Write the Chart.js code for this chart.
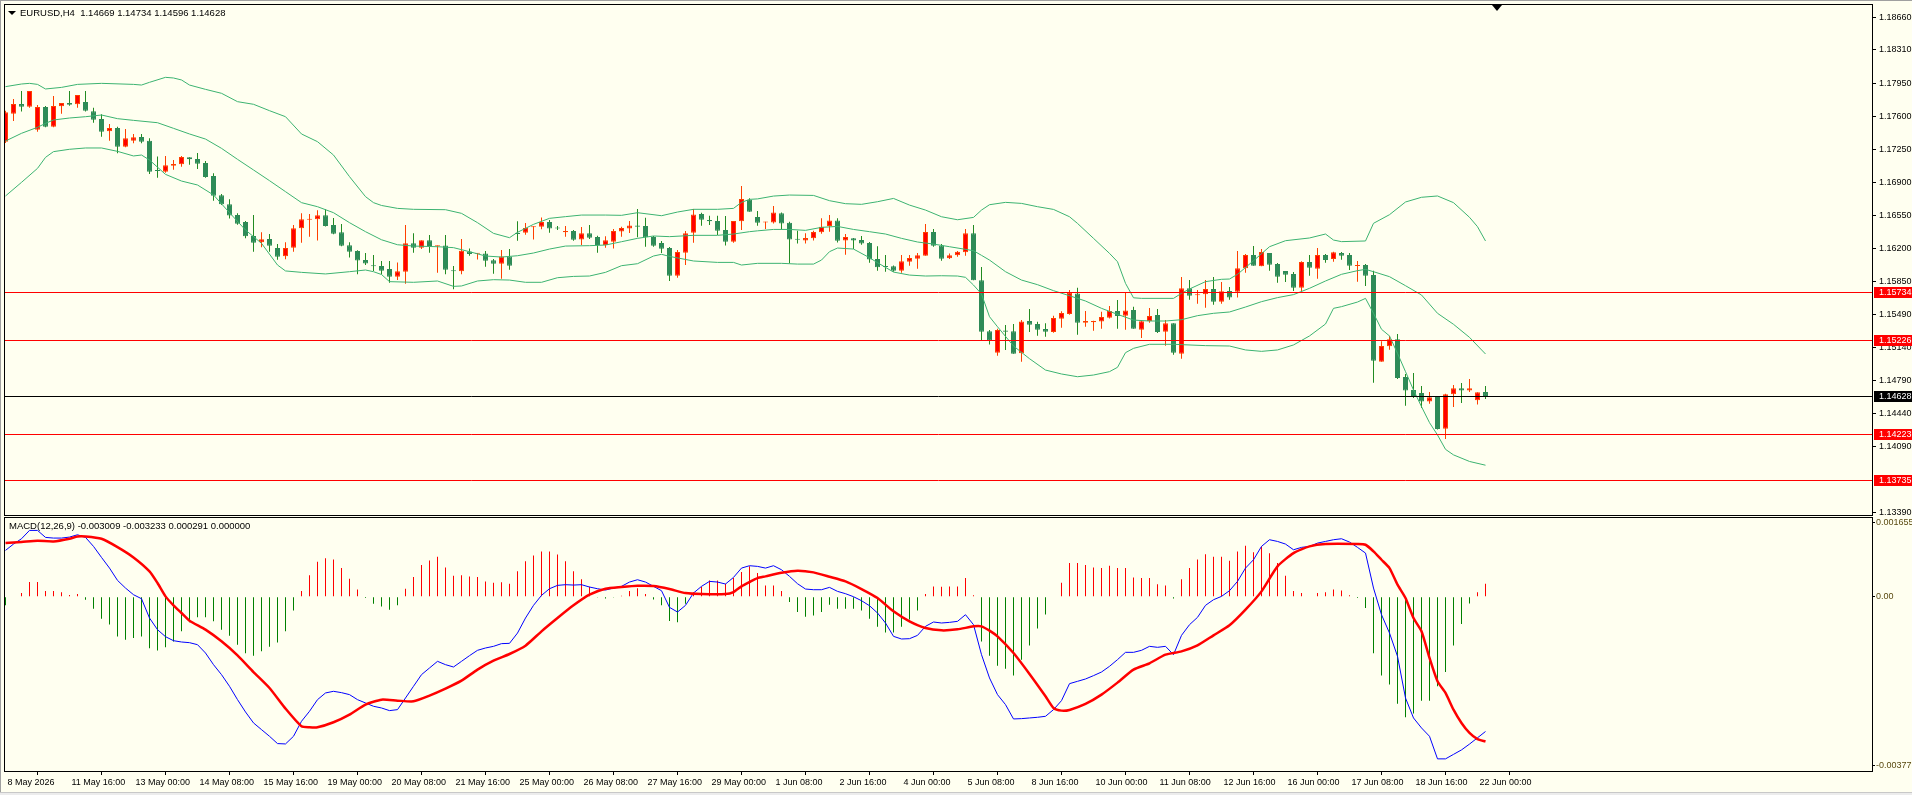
<!DOCTYPE html>
<html><head><meta charset="utf-8">
<script src="https://cdn.jsdelivr.net/npm/chart.js@4.4.1/dist/chart.umd.min.js"></script>
<style>
html,body{margin:0;padding:0;background:#FFFFF0;width:1912px;height:795px;overflow:hidden;position:relative;font-family:'Liberation Sans',Arial,sans-serif;}
#c1{position:absolute;left:0;top:0;}
#c2{position:absolute;left:0;top:516px;}
.lbl{position:absolute;font-size:9.5px;color:#000;white-space:pre;line-height:11px;}
.tri{position:absolute;width:0;height:0;border-left:4px solid transparent;border-right:4px solid transparent;border-top:4px solid #000;}
#edgeL{position:absolute;left:0;top:0;width:1px;height:795px;background:#A0A0A0;}
#edgeT{position:absolute;left:0;top:0;width:1912px;height:1px;background:#A0A0A0;}
#edgeB{position:absolute;left:0;top:792px;width:1912px;height:3px;background:#ECECEC;border-top:1px solid #C8C8C8;}
</style></head>
<body>
<canvas id="c1" width="1912" height="516"></canvas>
<canvas id="c2" width="1912" height="279"></canvas>
<div id="edgeL"></div><div id="edgeT"></div><div id="edgeB"></div>
<div class="tri" style="left:8px;top:11px;"></div>
<div class="lbl" style="left:20px;top:7px;">EURUSD,H4  1.14669 1.14734 1.14596 1.14628</div>
<div class="lbl" style="left:9px;top:520px;">MACD(12,26,9) -0.003009 -0.003233 0.000291 0.000000</div>
<div class="tri" style="left:1492px;top:5px;border-left-width:5px;border-right-width:5px;border-top-width:6px;"></div>
<script>
// ---------- DATA ----------
const open = [
1.17334,1.17632,1.17735,1.17707,1.17462,1.17703,1.17494,1.17710,1.17746,1.17732,
1.17756,1.17657,1.17575,1.17444,1.17480,1.17281,1.17345,1.17384,1.17345,1.17033,
1.17015,1.17079,1.17093,1.17167,1.17150,1.17107,1.16969,1.16763,1.16667,1.16554,
1.16479,1.16330,1.16263,1.16298,1.16202,1.16114,1.16206,1.16412,1.16504,1.16507,
1.16550,1.16447,1.16369,1.16231,1.16171,1.16075,1.16018,1.16010,1.15978,1.15897,
1.15950,1.16252,1.16206,1.16284,1.16220,1.16230,1.15964,1.15954,1.16166,1.16142,
1.16145,1.16071,1.16035,1.16113,1.16365,1.16365,1.16422,1.16429,1.16479,1.16418,
1.16369,1.16383,1.16294,1.16358,1.16319,1.16234,1.16269,1.16379,1.16411,1.16443,
1.16436,1.16319,1.16255,1.16202,1.15908,1.16152,1.16365,1.16564,1.16500,1.16489,
1.16394,1.16269,1.16486,1.16716,1.16532,1.16475,1.16475,1.16571,1.16471,1.16298,
1.16283,1.16305,1.16369,1.16436,1.16496,1.16283,1.16305,1.16287,1.16255,1.16085,
1.16007,1.16007,1.15961,1.16056,1.16088,1.16120,1.16372,1.16230,1.16092,1.16124,
1.16156,1.16358,1.15858,1.15315,1.15088,1.15325,1.15315,1.15081,1.15425,1.15393,
1.15340,1.15308,1.15450,1.15499,1.15719,1.15407,1.15411,1.15421,1.15460,1.15531,
1.15482,1.15542,1.15333,1.15425,1.15489,1.15312,1.15400,1.15077,1.15773,1.15698,
1.15709,1.15766,1.15631,1.15744,1.15737,1.15986,1.16128,1.16007,1.16149,1.16032,
1.15957,1.15925,1.15780,1.16053,1.15982,1.16128,1.16085,1.16149,1.16128,1.16011,
1.16021,1.15915,1.14992,1.15156,1.15230,1.14829,1.14691,1.14659,1.14567,1.14616,
1.14279,1.14645,1.14708,1.14684,1.14581,1.14669];
const high = [
1.17664,1.17788,1.17873,1.17873,1.17724,1.17714,1.17820,1.17746,1.17873,1.17831,
1.17873,1.17696,1.17625,1.17522,1.17494,1.17469,1.17416,1.17416,1.17370,1.17175,
1.17182,1.17139,1.17182,1.17167,1.17214,1.17128,1.16997,1.16777,1.16720,1.16571,
1.16490,1.16554,1.16369,1.16351,1.16245,1.16263,1.16447,1.16571,1.16565,1.16603,
1.16614,1.16522,1.16458,1.16263,1.16178,1.16149,1.16128,1.16064,1.16064,1.16049,
1.16447,1.16358,1.16284,1.16340,1.16230,1.16340,1.16010,1.16298,1.16198,1.16149,
1.16170,1.16085,1.16181,1.16191,1.16486,1.16468,1.16433,1.16528,1.16500,1.16436,
1.16436,1.16394,1.16426,1.16447,1.16333,1.16326,1.16404,1.16429,1.16489,1.16617,
1.16525,1.16330,1.16277,1.16213,1.16181,1.16383,1.16617,1.16578,1.16546,1.16546,
1.16543,1.16489,1.16862,1.16731,1.16596,1.16482,1.16649,1.16581,1.16482,1.16386,
1.16358,1.16386,1.16518,1.16553,1.16518,1.16351,1.16308,1.16329,1.16266,1.16220,
1.16127,1.16017,1.16127,1.16127,1.16149,1.16457,1.16404,1.16244,1.16145,1.16170,
1.16404,1.16447,1.16000,1.15329,1.15343,1.15382,1.15393,1.15435,1.15552,1.15418,
1.15400,1.15482,1.15528,1.15755,1.15780,1.15531,1.15428,1.15524,1.15584,1.15648,
1.15733,1.15577,1.15436,1.15564,1.15553,1.15436,1.15400,1.15894,1.15862,1.15755,
1.15862,1.15894,1.15840,1.15787,1.16170,1.16138,1.16224,1.16192,1.16149,1.16043,
1.15957,1.15947,1.16060,1.16128,1.16202,1.16138,1.16163,1.16160,1.16149,1.16064,
1.16032,1.15961,1.15209,1.15269,1.15287,1.14861,1.14872,1.14733,1.14669,1.14623,
1.14652,1.14744,1.14765,1.14808,1.14666,1.14734];
const low = [
1.17320,1.17554,1.17654,1.17696,1.17441,1.17487,1.17487,1.17632,1.17717,1.17696,
1.17654,1.17536,1.17387,1.17345,1.17210,1.17274,1.17316,1.17316,1.16990,1.16951,
1.17004,1.17036,1.17068,1.17089,1.17043,1.16951,1.16706,1.16660,1.16515,1.16451,
1.16305,1.16163,1.16210,1.16163,1.16078,1.16082,1.16163,1.16259,1.16323,1.16281,
1.16430,1.16348,1.16220,1.16100,1.15922,1.16021,1.15958,1.15922,1.15833,1.15861,
1.15822,1.16152,1.16191,1.16152,1.15939,1.15922,1.15762,1.15922,1.16120,1.16081,
1.16003,1.15929,1.15876,1.15971,1.16280,1.16344,1.16294,1.16401,1.16365,1.16394,
1.16323,1.16280,1.16234,1.16298,1.16152,1.16206,1.16198,1.16323,1.16362,1.16316,
1.16216,1.16216,1.16149,1.15851,1.15886,1.16021,1.16259,1.16440,1.16447,1.16340,
1.16230,1.16259,1.16394,1.16589,1.16440,1.16404,1.16464,1.16404,1.16039,1.16251,
1.16251,1.16283,1.16354,1.16376,1.16262,1.16131,1.16191,1.16237,1.16046,1.15961,
1.15950,1.15950,1.15939,1.16014,1.15982,1.16120,1.16216,1.16067,1.16085,1.16110,
1.16120,1.15858,1.15215,1.15176,1.15056,1.15116,1.15077,1.14992,1.15308,1.15269,
1.15258,1.15301,1.15354,1.15492,1.15279,1.15364,1.15322,1.15343,1.15453,1.15343,
1.15333,1.15343,1.15244,1.15407,1.15298,1.15163,1.15067,1.15024,1.15652,1.15610,
1.15567,1.15599,1.15610,1.15652,1.15674,1.15940,1.16014,1.16007,1.15961,1.15833,
1.15840,1.15744,1.15744,1.15908,1.15876,1.16046,1.16057,1.16078,1.15968,1.15844,
1.15798,1.14769,1.14992,1.15120,1.14808,1.14524,1.14606,1.14499,1.14545,1.14269,
1.14169,1.14510,1.14552,1.14669,1.14535,1.14596];
const close = [
1.17646,1.17735,1.17707,1.17873,1.17703,1.17494,1.17714,1.17746,1.17728,1.17831,
1.17664,1.17568,1.17441,1.17480,1.17281,1.17370,1.17380,1.17334,1.17015,1.17022,
1.17082,1.17096,1.17171,1.17146,1.17100,1.16958,1.16759,1.16667,1.16547,1.16461,
1.16327,1.16259,1.16295,1.16227,1.16110,1.16202,1.16412,1.16507,1.16511,1.16550,
1.16437,1.16355,1.16227,1.16163,1.16068,1.16036,1.16007,1.15961,1.15897,1.15954,
1.16252,1.16206,1.16284,1.16223,1.16230,1.15971,1.15954,1.16174,1.16138,1.16149,
1.16067,1.16035,1.16113,1.16014,1.16351,1.16415,1.16433,1.16479,1.16411,1.16411,
1.16383,1.16291,1.16358,1.16312,1.16234,1.16284,1.16383,1.16415,1.16443,1.16429,
1.16316,1.16227,1.16195,1.15908,1.16159,1.16358,1.16560,1.16504,1.16486,1.16386,
1.16269,1.16489,1.16724,1.16589,1.16472,1.16482,1.16581,1.16464,1.16294,1.16290,
1.16308,1.16372,1.16429,1.16496,1.16280,1.16319,1.16283,1.16251,1.16081,1.15996,
1.16000,1.15961,1.16060,1.16095,1.16124,1.16372,1.16227,1.16088,1.16124,1.16163,
1.16358,1.15858,1.15311,1.15219,1.15329,1.15311,1.15077,1.15421,1.15386,1.15333,
1.15311,1.15457,1.15510,1.15726,1.15407,1.15425,1.15425,1.15467,1.15531,1.15478,
1.15538,1.15343,1.15422,1.15478,1.15308,1.15400,1.15088,1.15773,1.15695,1.15709,
1.15766,1.15631,1.15741,1.15674,1.15986,1.16128,1.16014,1.16160,1.16025,1.15897,
1.15918,1.15780,1.16053,1.15993,1.16128,1.16075,1.16156,1.16121,1.16014,1.16018,
1.15908,1.15003,1.15159,1.15230,1.14818,1.14684,1.14627,1.14567,1.14613,1.14276,
1.14645,1.14708,1.14684,1.14708,1.14666,1.14628];

// Bollinger bands: [bar index, price]
const bbUpper = [[0,1.17920],[2,1.17948],[3,1.17955],[4,1.17944],[5,1.17895],[7,1.17912],[9,1.17944],[12,1.17955],[16,1.17944],[17,1.17937],[18,1.17966],[20,1.18019],[21,1.18012],[22,1.17991],[23,1.17937],[25,1.17891],[27,1.17849],[29,1.17760],[31,1.17732],[33,1.17664],[35,1.17600],[37,1.17416],[39,1.17334],[41,1.17192],[43,1.16962],[45,1.16749],[46,1.16685],[47,1.16655],[49,1.16624],[51,1.16614],[55,1.16610],[57,1.16571],[59,1.16472],[61,1.16358],[63,1.16312],[64,1.16369],[66,1.16454],[68,1.16518],[70,1.16536],[72,1.16553],[75,1.16553],[77,1.16550],[79,1.16578],[82,1.16546],[84,1.16585],[86,1.16614],[89,1.16614],[91,1.16624],[92,1.16688],[93,1.16720],[94,1.16725],[96,1.16755],[98,1.16766],[101,1.16762],[103,1.16706],[105,1.16674],[107,1.16667],[109,1.16695],[111,1.16730],[113,1.16659],[115,1.16606],[117,1.16535],[119,1.16503],[121,1.16528],[122,1.16606],[123,1.16663],[125,1.16688],[127,1.16677],[129,1.16642],[131,1.16613],[133,1.16535],[134,1.16464],[136,1.16305],[138,1.16145],[139,1.16056],[140,1.15826],[141,1.15672],[142,1.15666],[146,1.15666],[147,1.15720],[148,1.15766],[150,1.15844],[152,1.15869],[153,1.15872],[154,1.15922],[156,1.16067],[158,1.16216],[160,1.16280],[163,1.16309],[165,1.16351],[166,1.16287],[167,1.16270],[170,1.16277],[171,1.16465],[173,1.16557],[175,1.16692],[177,1.16742],[179,1.16756],[181,1.16685],[183,1.16529],[184,1.16429],[185,1.16277]];
const bbMiddle = [[0,1.17341],[2,1.17423],[4,1.17487],[5,1.17529],[6,1.17565],[8,1.17586],[10,1.17600],[12,1.17618],[14,1.17579],[16,1.17561],[19,1.17536],[21,1.17476],[23,1.17416],[25,1.17362],[27,1.17263],[29,1.17146],[31,1.17033],[33,1.16919],[35,1.16802],[37,1.16685],[39,1.16642],[41,1.16578],[43,1.16472],[45,1.16376],[47,1.16290],[49,1.16237],[51,1.16223],[54,1.16216],[56,1.16206],[58,1.16163],[60,1.16117],[62,1.16106],[64,1.16120],[66,1.16149],[68,1.16191],[70,1.16223],[73,1.16227],[75,1.16234],[77,1.16269],[79,1.16305],[81,1.16330],[83,1.16323],[86,1.16337],[89,1.16337],[91,1.16351],[93,1.16376],[94,1.16385],[96,1.16400],[98,1.16400],[100,1.16390],[102,1.16422],[104,1.16432],[106,1.16400],[108,1.16376],[110,1.16351],[112,1.16305],[114,1.16266],[116,1.16244],[118,1.16216],[120,1.16188],[121,1.16173],[122,1.16124],[123,1.16074],[125,1.15950],[127,1.15861],[129,1.15812],[131,1.15748],[133,1.15694],[135,1.15638],[137,1.15560],[139,1.15496],[141,1.15435],[143,1.15425],[145,1.15425],[147,1.15439],[149,1.15482],[151,1.15507],[153,1.15521],[155,1.15574],[157,1.15631],[159,1.15674],[161,1.15706],[163,1.15773],[165,1.15851],[167,1.15922],[169,1.15961],[170,1.15975],[171,1.15950],[173,1.15897],[175,1.15801],[177,1.15702],[179,1.15507],[181,1.15390],[183,1.15251],[185,1.15074]];
const bbLower = [[0,1.16756],[2,1.16901],[4,1.17050],[5,1.17167],[6,1.17228],[8,1.17253],[10,1.17267],[12,1.17267],[14,1.17231],[16,1.17182],[17,1.17192],[18,1.17139],[20,1.16986],[22,1.16915],[24,1.16873],[26,1.16767],[28,1.16578],[30,1.16394],[32,1.16252],[34,1.16021],[35,1.15958],[37,1.15943],[40,1.15926],[43,1.15950],[45,1.15968],[46,1.15950],[47,1.15920],[48,1.15844],[51,1.15837],[54,1.15851],[56,1.15794],[57,1.15798],[59,1.15851],[61,1.15865],[63,1.15861],[65,1.15837],[67,1.15837],[69,1.15886],[71,1.15900],[73,1.15904],[75,1.15943],[77,1.16014],[79,1.16035],[81,1.16117],[82,1.16135],[83,1.16113],[86,1.16064],[89,1.16049],[91,1.16049],[92,1.16021],[94,1.16039],[97,1.16039],[99,1.16031],[101,1.16031],[102,1.16074],[103,1.16163],[104,1.16202],[106,1.16191],[108,1.16099],[109,1.16046],[111,1.15946],[113,1.15914],[115,1.15904],[117,1.15907],[119,1.15904],[120,1.15890],[121,1.15808],[122,1.15712],[123,1.15471],[124,1.15364],[126,1.15159],[128,1.15024],[130,1.14903],[132,1.14861],[134,1.14832],[136,1.14850],[138,1.14886],[139,1.14932],[140,1.15088],[141,1.15134],[143,1.15177],[146,1.15177],[150,1.15163],[153,1.15159],[155,1.15117],[157,1.15102],[159,1.15117],[161,1.15170],[163,1.15266],[165,1.15393],[166,1.15560],[167,1.15578],[169,1.15627],[170,1.15666],[171,1.15507],[172,1.15337],[173,1.15266],[174,1.15081],[175,1.14886],[176,1.14691],[177,1.14513],[178,1.14343],[179,1.14212],[180,1.14059],[181,1.14000],[183,1.13930],[185,1.13890]];

const levelPrices = [1.15734, 1.15226, 1.14223, 1.13735];
const bidPrice = 1.14628;
const priceTicks = [1.18660,1.18310,1.17950,1.17600,1.17250,1.16900,1.16550,1.16200,1.15850,1.15490,1.15140,1.14790,1.14440,1.14090,1.13390];

// MACD(12,26,9)
const macdHist = [
-0.00019,0.00001,0.00008,0.00033,0.00033,0.00013,0.00013,0.00010,0.00004,0.00006,
-0.00007,-0.00027,-0.00049,-0.00062,-0.00089,-0.00096,-0.00092,-0.00089,-0.00115,-0.00120,
-0.00113,-0.00100,-0.00077,-0.00057,-0.00046,-0.00046,-0.00055,-0.00074,-0.00087,-0.00107,
-0.00126,-0.00132,-0.00122,-0.00112,-0.00102,-0.00077,-0.00031,0.00013,0.00048,0.00078,
0.00086,0.00083,0.00064,0.00040,0.00016,-0.00003,-0.00016,-0.00022,-0.00029,-0.00019,
0.00018,0.00044,0.00071,0.00081,0.00089,0.00065,0.00047,0.00048,0.00045,0.00044,
0.00034,0.00031,0.00032,0.00029,0.00057,0.00079,0.00092,0.00101,0.00101,0.00094,
0.00079,0.00057,0.00039,0.00022,-0.00002,-0.00004,-0.00002,0.00002,0.00013,0.00019,
0.00006,-0.00006,-0.00019,-0.00054,-0.00057,-0.00016,0.00010,0.00022,0.00036,0.00036,
0.00029,0.00042,0.00055,0.00068,0.00053,0.00025,0.00025,0.00013,-0.00012,-0.00034,
-0.00045,-0.00042,-0.00034,-0.00018,-0.00027,-0.00027,-0.00027,-0.00031,-0.00049,-0.00067,
-0.00080,-0.00080,-0.00067,-0.00051,-0.00031,0.00006,0.00023,0.00022,0.00023,0.00023,
0.00042,0.00003,-0.00100,-0.00132,-0.00154,-0.00161,-0.00176,-0.00141,-0.00109,-0.00071,
-0.00040,-0.00001,0.00031,0.00075,0.00075,0.00071,0.00065,0.00064,0.00069,0.00064,
0.00064,0.00043,0.00042,0.00042,0.00028,0.00025,-0.00004,0.00039,0.00064,0.00083,
0.00095,0.00089,0.00089,0.00080,0.00101,0.00114,0.00099,0.00112,0.00097,0.00075,
0.00047,0.00013,0.00008,0.00000,0.00008,0.00010,0.00016,0.00014,0.00003,-0.00003,
-0.00025,-0.00126,-0.00176,-0.00196,-0.00239,-0.00269,-0.00261,-0.00232,-0.00232,-0.00200,
-0.00168,-0.00109,-0.00061,-0.00015,0.00010,0.000291];
const macdMain = [
0.001034,0.001175,0.001294,0.001480,0.001480,0.001324,0.001309,0.001309,0.001331,0.001383,
0.001324,0.001123,0.000877,0.000639,0.000364,0.000193,0.000045,-0.000045,-0.000476,-0.000736,
-0.000892,-0.000982,-0.001011,-0.001026,-0.001071,-0.001257,-0.001517,-0.001740,-0.002000,-0.002298,
-0.002573,-0.002818,-0.002967,-0.003116,-0.003279,-0.003287,-0.003116,-0.002781,-0.002558,-0.002298,
-0.002149,-0.002112,-0.002142,-0.002186,-0.002298,-0.002372,-0.002446,-0.002484,-0.002543,-0.002521,
-0.002261,-0.002000,-0.001740,-0.001591,-0.001443,-0.001517,-0.001569,-0.001443,-0.001316,-0.001197,
-0.001145,-0.001108,-0.001048,-0.001041,-0.000811,-0.000476,-0.000193,0.000030,0.000178,0.000253,
0.000268,0.000260,0.000268,0.000216,0.000178,0.000149,0.000193,0.000231,0.000327,0.000379,
0.000327,0.000231,0.000134,-0.000238,-0.000342,-0.000193,0.000082,0.000231,0.000342,0.000327,
0.000283,0.000431,0.000639,0.000692,0.000677,0.000639,0.000692,0.000602,0.000454,0.000290,
0.000171,0.000156,0.000156,0.000208,0.000119,0.000067,0.000000,-0.000089,-0.000201,-0.000364,
-0.000587,-0.000885,-0.000944,-0.000937,-0.000863,-0.000662,-0.000565,-0.000587,-0.000573,-0.000550,
-0.000402,-0.000625,-0.001294,-0.001814,-0.002186,-0.002409,-0.002729,-0.002722,-0.002707,-0.002692,
-0.002670,-0.002521,-0.002320,-0.001941,-0.001889,-0.001837,-0.001762,-0.001681,-0.001554,-0.001405,
-0.001242,-0.001242,-0.001197,-0.001108,-0.001130,-0.001108,-0.001294,-0.000863,-0.000625,-0.000461,
-0.000193,-0.000067,0.000007,0.000134,0.000342,0.000639,0.000825,0.001123,0.001272,0.001234,
0.001175,0.001048,0.001101,0.001123,0.001197,0.001234,0.001272,0.001294,0.001220,0.001101,
0.000974,0.000193,-0.000402,-0.000811,-0.001331,-0.002261,-0.002707,-0.002930,-0.003116,-0.003620,
-0.003620,-0.003520,-0.003420,-0.003290,-0.003150,-0.003009];
const macdSignal = [[0,0.001197],[2,0.001220],[4,0.001249],[6,0.001234],[8,0.001294],[9,0.001346],[10,0.001346],[12,0.001294],[14,0.001108],[16,0.000877],[18,0.000565],[19,0.000305],[20,0.000007],[21,-0.000193],[22,-0.000364],[23,-0.000535],[25,-0.000736],[27,-0.000996],[29,-0.001309],[31,-0.001681],[33,-0.002037],[35,-0.002498],[37,-0.002893],[38,-0.002915],[39,-0.002915],[41,-0.002803],[43,-0.002632],[45,-0.002409],[47,-0.002298],[49,-0.002320],[51,-0.002335],[53,-0.002208],[55,-0.002052],[57,-0.001874],[59,-0.001628],[61,-0.001428],[63,-0.001279],[65,-0.001093],[67,-0.000773],[69,-0.000476],[71,-0.000193],[73,0.000045],[75,0.000178],[77,0.000216],[79,0.000245],[81,0.000238],[83,0.000171],[85,0.000082],[87,0.000059],[90,0.000059],[91,0.000104],[92,0.000231],[93,0.000327],[94,0.000416],[95,0.000454],[97,0.000535],[99,0.000580],[101,0.000543],[103,0.000446],[105,0.000342],[107,0.000171],[109,-0.000030],[111,-0.000327],[113,-0.000550],[115,-0.000699],[117,-0.000751],[119,-0.000729],[121,-0.000662],[122,-0.000662],[123,-0.000758],[124,-0.000885],[126,-0.001257],[128,-0.001725],[130,-0.002223],[131,-0.002484],[132,-0.002543],[133,-0.002528],[135,-0.002394],[137,-0.002186],[139,-0.001918],[141,-0.001628],[143,-0.001487],[145,-0.001294],[147,-0.001220],[149,-0.001086],[151,-0.000863],[153,-0.000639],[155,-0.000290],[157,0.000119],[159,0.000677],[161,0.000974],[163,0.001123],[165,0.001175],[169,0.001175],[170,0.001160],[171,0.001011],[172,0.000825],[173,0.000639],[174,0.000268],[175,-0.000030],[176,-0.000476],[177,-0.000773],[178,-0.001368],[179,-0.001889],[180,-0.002149],[181,-0.002521],[182,-0.002818],[183,-0.003041],[184,-0.003180],[185,-0.003233]];
const macdTickValues = [0.001655, 0, -0.00377];
const macdTickLabels = ['0.001655', '0.00', '-0.00377'];

const timeLabels = ['8 May 2026','11 May 16:00','13 May 00:00','14 May 08:00','15 May 16:00','19 May 00:00','20 May 08:00','21 May 16:00','25 May 00:00','26 May 08:00','27 May 16:00','29 May 00:00','1 Jun 08:00','2 Jun 16:00','4 Jun 00:00','5 Jun 08:00','8 Jun 16:00','10 Jun 00:00','11 Jun 08:00','12 Jun 16:00','16 Jun 00:00','17 Jun 08:00','18 Jun 16:00','22 Jun 00:00'];
const barsPerLabel = 8;

// ---------- RENDER ----------
const FONT = "'Liberation Sans', Arial, sans-serif";
Chart.defaults.font.family = FONT;
Chart.defaults.font.size = 9;
Chart.defaults.color = '#000';

const X_MIN = -0.0625, X_MAX = X_MIN + 1867 / 8;
const UP_FILL = '#FF0000', UP_LINE = '#FF4000', DN_FILL = '#2E8B57', DN_LINE = '#228B22';
const bull = close.map((c, i) => c >= open[i]);
const toXY = arr => arr.map(([x, y]) => ({x, y}));

const framePlugin = {
  id: 'frame',
  afterDraw(chart) {
    const {ctx, chartArea: a} = chart;
    ctx.save();
    ctx.strokeStyle = '#000'; ctx.lineWidth = 1;
    ctx.strokeRect(a.left - 0.5, a.top - 0.5, a.right - a.left + 1, a.bottom - a.top + 1);
    ctx.restore();
  }
};

const levelsPlugin = {
  id: 'levels',
  afterDatasetsDraw(chart) {
    const {ctx, chartArea: a, scales: {y}} = chart;
    ctx.save(); ctx.lineWidth = 1;
    const lines = levelPrices.map(p => [p, '#FF0000']).concat([[bidPrice, '#000000']]);
    lines.forEach(([p, col]) => {
      const yy = Math.round(y.getPixelForValue(p)) + 0.5;
      ctx.strokeStyle = col;
      ctx.beginPath(); ctx.moveTo(a.left, yy); ctx.lineTo(a.right, yy); ctx.stroke();
    });
    ctx.restore();
  },
  afterDraw(chart) {
    const {ctx, chartArea: a, scales: {y}} = chart;
    ctx.save();
    ctx.font = '9px ' + FONT; ctx.textBaseline = 'middle'; ctx.textAlign = 'left';
    const lines = levelPrices.map(p => [p, '#FF0000']).concat([[bidPrice, '#000000']]);
    lines.forEach(([p, col]) => {
      const n = Math.round(y.getPixelForValue(p));
      ctx.fillStyle = col;
      ctx.fillRect(a.right + 2, n - 5, 40, 11);
      ctx.fillStyle = '#FFFFFF';
      ctx.fillText(p.toFixed(5), a.right + 7, n + 0.5);
    });
    ctx.restore();
  }
};

new Chart(document.getElementById('c1'), {
  type: 'bar',
  data: {
    datasets: [
      {type: 'line', data: toXY(bbUpper), borderColor: '#3CB371', borderWidth: 1, pointRadius: 0, tension: 0, order: 0},
      {type: 'line', data: toXY(bbMiddle), borderColor: '#3CB371', borderWidth: 1, pointRadius: 0, tension: 0, order: 0},
      {type: 'line', data: toXY(bbLower), borderColor: '#3CB371', borderWidth: 1, pointRadius: 0, tension: 0, order: 0},
      {type: 'bar', data: open.map((o, i) => ({x: i, y: [low[i], high[i]]})),
        backgroundColor: bull.map(b => b ? UP_LINE : DN_LINE), grouped: false, maxBarThickness: 1,
        inflateAmount: 0, borderWidth: 0, minBarLength: 1, order: 2},
      {type: 'bar', data: open.map((o, i) => ({x: i, y: [o, close[i]]})),
        backgroundColor: bull.map(b => b ? UP_FILL : DN_FILL), borderColor: bull.map(b => b ? UP_LINE : DN_FILL),
        borderWidth: 1, borderSkipped: false, grouped: false, maxBarThickness: 5,
        inflateAmount: 0, minBarLength: 1, order: 1}
    ]
  },
  options: {
    responsive: false, animation: false, events: [],
    layout: {padding: {left: 5, top: 5, right: 0, bottom: 1}, autoPadding: false},
    plugins: {legend: {display: false}, tooltip: {enabled: false}},
    scales: {
      x: {type: 'linear', min: X_MIN, max: X_MAX, display: false, offset: false},
      y: {
        position: 'right', min: 1.13360, max: 1.18789, beginAtZero: false,
        afterFit(s) { s.width = 40; s.paddingTop = 0; s.paddingBottom = 0; },
        afterBuildTicks(s) { s.ticks = priceTicks.map(v => ({value: v})); },
        ticks: {callback: v => Number(v).toFixed(5), padding: 3, autoSkip: false, color: '#000', font: {size: 9}},
        grid: {drawOnChartArea: false, drawTicks: true, tickLength: 4, color: '#000'},
        border: {display: false}
      }
    }
  },
  plugins: [levelsPlugin, framePlugin]
});

new Chart(document.getElementById('c2'), {
  type: 'bar',
  data: {
    datasets: [
      {type: 'line', data: macdMain.map((v, i) => ({x: i, y: v})), borderColor: '#0000FF', borderWidth: 1, pointRadius: 0, tension: 0, order: 1},
      {type: 'line', data: toXY(macdSignal), borderColor: '#FF0000', borderWidth: 2.5, pointRadius: 0, tension: 0.2, order: 0},
      {type: 'bar', data: macdHist.map((v, i) => ({x: i, y: v})),
        backgroundColor: macdHist.map(v => v >= 0 ? '#FF0000' : '#008000'), grouped: false, maxBarThickness: 1,
        inflateAmount: 0, borderWidth: 0, order: 2}
    ]
  },
  options: {
    responsive: false, animation: false, events: [],
    layout: {padding: {left: 5, top: 2, right: 0, bottom: 0}, autoPadding: false},
    plugins: {legend: {display: false}, tooltip: {enabled: false}},
    scales: {
      x: {
        type: 'linear', min: X_MIN, max: X_MAX, offset: false, position: 'bottom',
        afterFit(s) { s.height = 24; s.paddingLeft = 0; s.paddingRight = 0; },
        afterBuildTicks(s) { s.ticks = timeLabels.map((_, k) => ({value: k * barsPerLabel})); },
        ticks: {callback: (v, idx) => timeLabels[idx], align: 'start', labelOffset: 2, maxRotation: 0, minRotation: 0, autoSkip: false, padding: 2, color: '#000', font: {size: 9}},
        grid: {drawOnChartArea: false, drawTicks: true, tickLength: 4, color: '#000'},
        border: {display: false}
      },
      y: {
        position: 'right', min: -0.003891, max: 0.001757, beginAtZero: false,
        afterFit(s) { s.width = 40; s.paddingTop = 0; s.paddingBottom = 0; },
        afterBuildTicks(s) { s.ticks = macdTickValues.map(v => ({value: v})); },
        ticks: {callback: (v, idx) => macdTickLabels[idx], padding: 1, autoSkip: false, color: '#5A4A10', font: {size: 9}},
        grid: {drawOnChartArea: false, drawTicks: true, tickLength: 3, color: '#000'},
        border: {display: false}
      }
    }
  },
  plugins: [framePlugin]
});
</script>
</body></html>
